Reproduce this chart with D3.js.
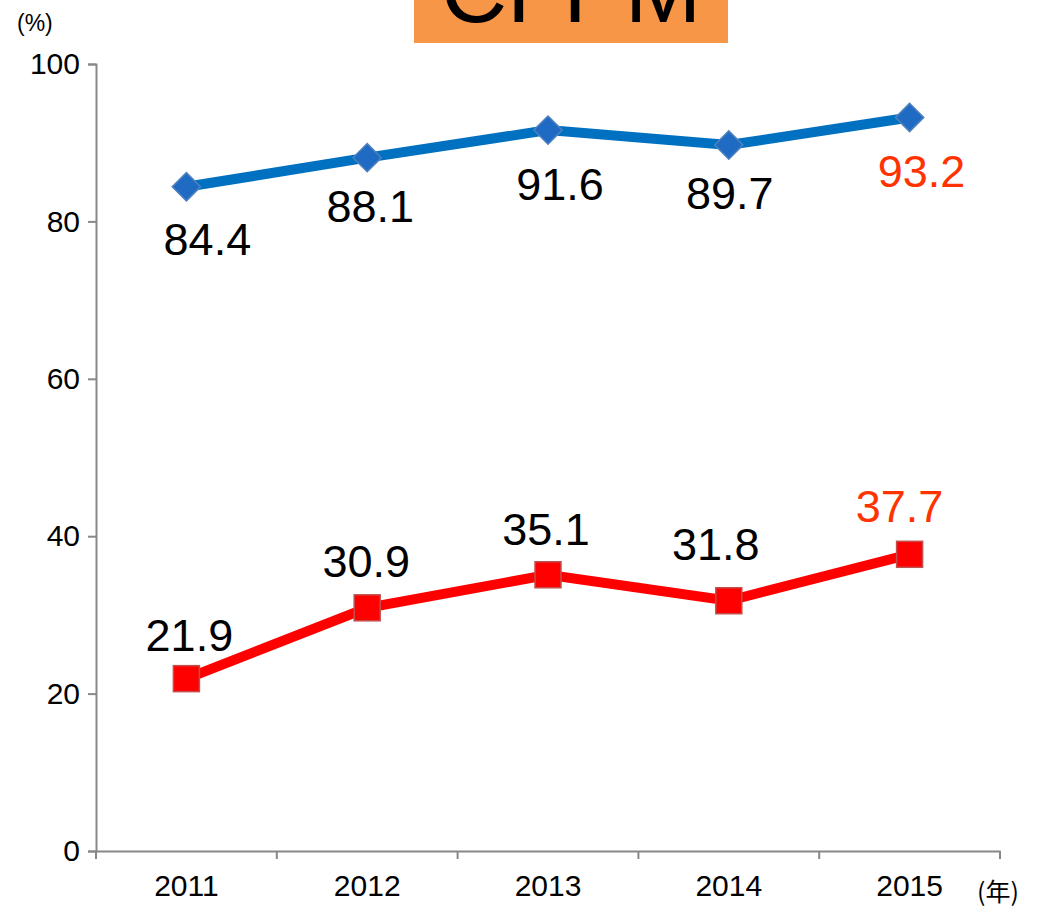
<!DOCTYPE html>
<html lang="ja">
<head>
    <meta charset="UTF-8">
    <title>CFPM</title>
    <script src="https://d3js.org/d3.v7.min.js"></script>
    <style>
        html, body {
            margin: 0;
            background: #fff;
            font-family: "Liberation Sans", Arial, sans-serif;
        }
        .axis text {
            font-family: "Liberation Sans", Arial, sans-serif;
            font-size: 30px;
            fill: #000;
        }
    </style>
</head>
<body>
    <div id="vis"></div>
    <script>
        // data
        var years = ["2011", "2012", "2013", "2014", "2015"];
        var upperValues = [84.4, 88.1, 91.6, 89.7, 93.2];
        var lowerValues = [21.9, 30.9, 35.1, 31.8, 37.7];
        var yTicks = [0, 20, 40, 60, 80, 100];

        // label nudges (px), kept apart from the data
        var upperNudge = [[21, 54], [3, 50], [12, 56], [1, 50], [12, 55]];
        var lowerNudge = [[3, -42], [-1, -45], [-2, -44], [-13, -55], [-10, -46]];

        var W = 1041, H = 907;
        var margin = {top: 64, bottom: 56, left: 96, right: 41};
        var width = W - margin.left - margin.right;
        var height = H - margin.top - margin.bottom;

        var svg = d3.select('#vis')
            .append('svg')
                .attr('width', W)
                .attr('height', H);

        // title box, cut off at the top like the original
        svg.append('rect')
            .attr('x', 414).attr('y', -60)
            .attr('width', 314).attr('height', 103)
            .attr('fill', '#F79646');
        svg.append('text')
            .attr('x', 571).attr('y', 22)
            .attr('text-anchor', 'middle')
            .attr('font-size', 92)
            .attr('fill', '#000')
            .text('CFPM');

        var g = svg.append('g')
            .attr('transform', 'translate(' + margin.left + ',' + margin.top + ')');

        var x = d3.scaleBand().domain(years).range([0, width]);
        var y = d3.scaleLinear().domain([0, 100]).range([height, 0]);
        var cx = function(d, i) { return x(years[i]) + x.bandwidth() / 2; };

        // y axis
        g.append('g')
            .attr('class', 'axis y')
            .call(d3.axisLeft(y).tickValues(yTicks).tickSize(8).tickPadding(8));

        // x axis with boundary ticks
        var xAxis = g.append('g')
            .attr('class', 'axis x')
            .attr('transform', 'translate(0,' + height + ')')
            .call(d3.axisBottom(x).tickSize(0).tickPadding(24));
        xAxis.selectAll('.bound')
            .data(d3.range(years.length + 1))
            .enter().append('line')
            .attr('x1', function(d) { return d * x.step(); })
            .attr('x2', function(d) { return d * x.step(); })
            .attr('y1', 0).attr('y2', 8)
            .attr('stroke', '#888').attr('stroke-width', 2);
        g.selectAll('.domain').attr('stroke', '#888').attr('stroke-width', 2);
        g.selectAll('.y .tick line').attr('stroke', '#888').attr('stroke-width', 2);

        // unit labels
        svg.append('text').attr('x', 17).attr('y', 31)
            .attr('font-size', 23).text('(%)');
        svg.append('text').attr('x', 977).attr('y', 901)
            .attr('font-size', 25).attr('font-family', '"Noto Sans CJK JP", sans-serif').text('(年)');

        var line = d3.line()
            .x(cx)
            .y(function(d) { return y(d); });

        // upper series
        g.append('path')
            .datum(upperValues)
            .attr('fill', 'none')
            .attr('stroke', '#0070C0')
            .attr('stroke-width', 10)
            .attr('d', line);
        g.selectAll('.diamond')
            .data(upperValues)
            .enter().append('rect')
            .attr('x', -10).attr('y', -10)
            .attr('width', 20).attr('height', 20)
            .attr('transform', function(d, i) { return 'translate(' + cx(d, i) + ',' + y(d) + ') rotate(45)'; })
            .attr('fill', '#1F6BC4')
            .attr('stroke', '#4F81BD')
            .attr('stroke-width', 1.5);

        // lower series
        g.append('path')
            .datum(lowerValues)
            .attr('fill', 'none')
            .attr('stroke', '#FF0000')
            .attr('stroke-width', 10)
            .attr('d', line);
        g.selectAll('.square')
            .data(lowerValues)
            .enter().append('rect')
            .attr('x', function(d, i) { return cx(d, i) - 13; })
            .attr('y', function(d) { return y(d) - 13; })
            .attr('width', 26).attr('height', 26)
            .attr('fill', '#FF0000')
            .attr('stroke', '#C0504D')
            .attr('stroke-width', 1.5);

        // value labels
        var last = years.length - 1;
        g.selectAll('.ulabel')
            .data(upperValues)
            .enter().append('text')
            .attr('x', function(d, i) { return cx(d, i) + upperNudge[i][0]; })
            .attr('y', function(d, i) { return y(d) + upperNudge[i][1] + 14; })
            .attr('text-anchor', 'middle')
            .attr('font-size', 45)
            .attr('fill', function(d, i) { return i === last ? '#FF3300' : '#000'; })
            .text(function(d) { return d.toFixed(1); });
        g.selectAll('.llabel')
            .data(lowerValues)
            .enter().append('text')
            .attr('x', function(d, i) { return cx(d, i) + lowerNudge[i][0]; })
            .attr('y', function(d, i) { return y(d) + lowerNudge[i][1] + 14; })
            .attr('text-anchor', 'middle')
            .attr('font-size', 45)
            .attr('fill', function(d, i) { return i === last ? '#FF3300' : '#000'; })
            .text(function(d) { return d.toFixed(1); });
    </script>
</body>
</html>
